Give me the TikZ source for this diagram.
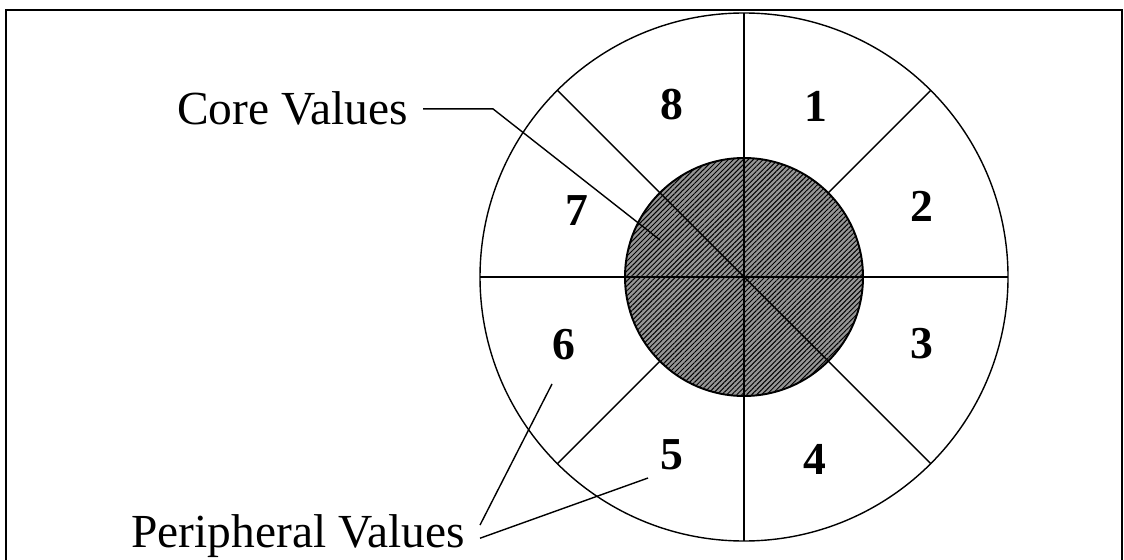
\documentclass[tikz,border=0pt]{standalone}
\usepackage{fontspec}
\setmainfont{Liberation Serif}
\usepackage{tikz}
\usetikzlibrary{calc, patterns.meta}
\definecolor{coregray}{RGB}{150, 150, 150}

\begin{document}
\begin{tikzpicture}[x=0.02cm, y=0.02cm,
    wheel/.style={draw=black, line width=0.8pt},
    numlabel/.style={font=\fontsize{26}{28}\selectfont\bfseries, inner sep=0pt},
    valtext/.style={font=\fontsize{27}{30}\selectfont, inner ysep=0pt, inner xsep=8.5pt},
    leader/.style={draw=black, line width=0.8pt}]
  \useasboundingbox (0,0) rectangle (1124,-560);

  % Frame (open at the bottom)
  \draw[line width=1.2pt] (6,-560) -- (6,-10) -- (1122,-10) -- (1122,-560);

  \coordinate (c) at (744,-277);

  % Hatched core
  \fill[coregray] (c) circle (119);
  \fill[pattern={Lines[angle=45, distance=2pt, line width=0.55pt]}, pattern color=black] (c) circle (119);
  \draw[wheel, line width=1.1pt] (c) circle (119);

  % Spokes and rim
  \draw[wheel, shift={(c)}] (90:264) -- (270:264);
  \draw[wheel, shift={(c)}] (0:264) -- (180:264);
  \draw[wheel, shift={(c)}] (135:264) -- (315:264);
  \draw[wheel, shift={(c)}] (45:119) -- (45:264);
  \draw[wheel, shift={(c)}] (225:119) -- (225:264);
  \draw[wheel] (c) circle (264);

  % Sector numbers
  \foreach \lbl/\px/\py in {1/816/-106, 2/922/-206, 3/922/-344, 4/815/-459,
                            5/672/-455, 6/564/-345, 7/577/-211, 8/672/-105}
    \node[numlabel] (n\lbl) at (\px,\py) {\lbl};

  % Captions
  \node[valtext, anchor=base east] (core) at (423,-125) {Core Values};
  \node[valtext, anchor=base east] (periph) at (480,-547) {Peripheral Values};

  \coordinate (coretip) at (660,-240);
  \coordinate (periphsix) at (552,-384);
  \coordinate (periphfive) at (648,-478);

  \draw[leader] (core.east) -- ++(70,0) -- (coretip);
  \draw[leader] ([yshift=6pt]periph.east) -- (periphsix);
  \draw[leader] ([yshift=-1.5pt]periph.east) -- (periphfive);
\end{tikzpicture}
\end{document}
